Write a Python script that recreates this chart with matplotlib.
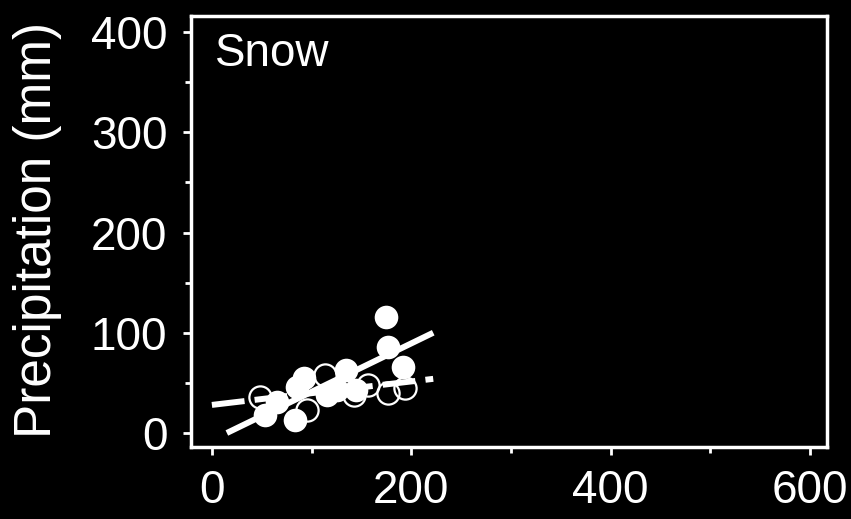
import matplotlib.pyplot as plt
from matplotlib.ticker import MultipleLocator

plt.rcParams['font.family'] = ['Liberation Sans', 'DejaVu Sans']

# filled circles
filled_x = [175, 177, 192, 135, 92, 85, 83, 53, 65, 115, 125, 145]
filled_y = [116, 86, 66, 63, 55, 46, 13, 18, 31, 38, 43, 43]
# open circles
open_x = [48, 113, 95, 157, 177, 194, 143]
open_y = [36, 58, 23, 48, 40, 45, 38]

# fitted lines (end points)
solid_x = [15, 222]
solid_y = [0, 100]
dash_x = [0, 222]
dash_y = [28, 54]

xticks = [0, 200, 400, 600]
yticks = [0, 100, 200, 300, 400]

fig = plt.figure(figsize=(8.51, 5.19), dpi=100, facecolor='black')
ax = fig.add_axes([0.2244, 0.1387, 0.7474, 0.8305])
ax.set_facecolor('black')

ax.plot(solid_x, solid_y, '-', color='white', linewidth=4.3, solid_capstyle='butt')
ax.plot(dash_x, dash_y, color='white', linewidth=4.3, linestyle=(0, (5.5, 1.7)))

ax.plot(filled_x, filled_y, 'o', color='white', markersize=17, markeredgewidth=0)
ax.plot(open_x, open_y, 'o', markerfacecolor='none', markeredgecolor='white',
        markersize=16, markeredgewidth=1.6)

ax.set_xlim(-21, 617)
ax.set_ylim(-14, 416)
ax.set_xticks(xticks)
ax.set_yticks(yticks)
ax.xaxis.set_minor_locator(MultipleLocator(100))
ax.yaxis.set_minor_locator(MultipleLocator(50))

for s in ax.spines.values():
    s.set_color('white')
    s.set_linewidth(2.5)

ax.tick_params(which='both', direction='out', color='white', width=2, labelcolor='white')
ax.tick_params(which='major', length=6, labelsize=33)
ax.tick_params(which='minor', length=4)
ax.tick_params(axis='x', which='major', pad=10)
ax.tick_params(axis='y', which='major', pad=11)

ax.text(3, 366, 'Snow', color='white', fontsize=33, ha='left', va='baseline')

fig.text(38 / 851, 1 - 230 / 519, 'Precipitation (mm)', color='white', fontsize=37,
         rotation=90, ha='center', va='center')

fig.savefig('out.png', dpi=100, facecolor='black')
